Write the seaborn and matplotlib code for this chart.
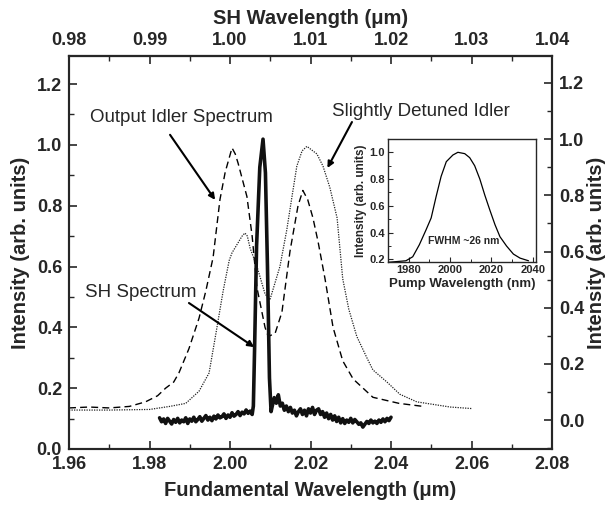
import numpy as np
import pandas as pd
import matplotlib
matplotlib.use("Agg")
import matplotlib.pyplot as plt
import seaborn as sns
from matplotlib.ticker import MultipleLocator

# ---------------- data ----------------
# Output idler spectrum (dashed), left axis
idler_x = [1.960, 1.965, 1.970, 1.975, 1.979, 1.982, 1.984, 1.986, 1.9873, 1.9898,
           1.9923, 1.994, 1.9958, 1.9975, 1.9988, 2.0005, 2.0013, 2.002, 2.0042, 2.0055,
           2.0067, 2.0087, 2.0095, 2.0112, 2.0129, 2.0141, 2.0149, 2.0169, 2.0181, 2.0193,
           2.0206, 2.0219, 2.0236, 2.0256, 2.028, 2.0306, 2.0355, 2.042, 2.048]
idler_y = [0.135, 0.138, 0.135, 0.140, 0.155, 0.175, 0.200, 0.220, 0.250, 0.330,
           0.430, 0.520, 0.630, 0.820, 0.910, 0.990, 0.970, 0.940, 0.830, 0.700,
           0.530, 0.400, 0.370, 0.380, 0.450, 0.570, 0.650, 0.800, 0.850, 0.820,
           0.760, 0.680, 0.560, 0.400, 0.290, 0.230, 0.170, 0.150, 0.140]

# Slightly detuned idler (dotted), left axis
detuned_x = [1.960, 1.970, 1.980, 1.985, 1.989, 1.9923, 1.9948, 1.9965, 1.9983, 1.9998,
             2.0005, 2.003, 2.0037, 2.0043, 2.005, 2.0067, 2.0087, 2.0099, 2.0124, 2.0141,
             2.0154, 2.0166, 2.0179, 2.0191, 2.0216, 2.0231, 2.0248, 2.0266, 2.028, 2.0295,
             2.0315, 2.034, 2.0355, 2.039, 2.0422, 2.0464, 2.0547, 2.060]
detuned_y = [0.128, 0.128, 0.130, 0.140, 0.150, 0.190, 0.250, 0.380, 0.520, 0.620,
             0.645, 0.700, 0.710, 0.700, 0.660, 0.600, 0.510, 0.490, 0.600, 0.720,
             0.830, 0.930, 0.980, 0.995, 0.970, 0.930, 0.860, 0.760, 0.560, 0.460,
             0.370, 0.300, 0.260, 0.220, 0.180, 0.155, 0.138, 0.133]

# SH spectrum (solid, thick, noisy baseline), right axis
sh_x = [1.9825, 1.9830, 1.9835, 1.9840, 1.9845, 1.9850, 1.9855, 1.9860, 1.9865, 1.9870,
        1.9875, 1.9880, 1.9885, 1.9890, 1.9895, 1.9900, 1.9905, 1.9910, 1.9915, 1.9920,
        1.9925, 1.9930, 1.9935, 1.9940, 1.9945, 1.9950, 1.9955, 1.9960, 1.9965, 1.9970,
        1.9975, 1.9980, 1.9985, 1.9990, 1.9995, 2.0000, 2.0005, 2.0010, 2.0015, 2.0020,
        2.0025, 2.0030, 2.0035, 2.0040, 2.0045, 2.0050, 2.0055,
        2.0058, 2.0061, 2.0066, 2.0074, 2.0082, 2.0088, 2.0093, 2.0098, 2.0102,
        2.0105, 2.0110, 2.0115, 2.0120, 2.0125, 2.0130, 2.0135, 2.0140, 2.0145, 2.0150,
        2.0155, 2.0160, 2.0165, 2.0170, 2.0175, 2.0180, 2.0185, 2.0190, 2.0195, 2.0200,
        2.0205, 2.0210, 2.0215, 2.0220, 2.0225, 2.0230, 2.0235, 2.0240, 2.0245, 2.0250,
        2.0255, 2.0260, 2.0265, 2.0270, 2.0275, 2.0280, 2.0285, 2.0290, 2.0295, 2.0300,
        2.0305, 2.0310, 2.0315, 2.0320, 2.0325, 2.0330, 2.0335, 2.0340, 2.0345, 2.0350,
        2.0355, 2.0360, 2.0365, 2.0370, 2.0375, 2.0380, 2.0385, 2.0390, 2.0395, 2.0400]
sh_y = [0.008, -0.006, 0.004, -0.012, 0.006, -0.004, -0.014, 0.002, -0.008, 0.006,
        -0.010, 0.000, -0.006, 0.008, -0.012, 0.004, -0.004, 0.010, -0.006, 0.002,
        0.012, -0.004, 0.006, 0.016, 0.000, 0.010, -0.002, 0.014, 0.004, 0.018,
        0.008, 0.012, 0.022, 0.006, 0.018, 0.010, 0.026, 0.014, 0.020, 0.030,
        0.016, 0.028, 0.022, 0.036, 0.024, 0.032, 0.020,
        0.050, 0.250, 0.620, 0.900, 1.000, 0.880, 0.550, 0.150, 0.030,
        0.050, 0.080, 0.060, 0.090, 0.050, 0.060, 0.035, 0.050, 0.030, 0.045,
        0.025, 0.035, 0.015, 0.030, 0.040, 0.020, 0.035, 0.015, 0.040, 0.025,
        0.045, 0.020, 0.035, 0.040, 0.020, 0.030, 0.010, 0.025, 0.005, 0.020,
        0.000, 0.015, -0.005, 0.010, -0.010, 0.005, -0.012, 0.000, -0.008, 0.006,
        -0.010, 0.002, -0.006, -0.015, -0.010, -0.025, -0.015, -0.005, -0.012, 0.000,
        -0.010, -0.004, -0.012, 0.000, -0.008, 0.004, -0.006, 0.006, -0.002, 0.010]

# Inset: pump spectrum
pump_x = [1969.8, 1978.7, 1982.0, 1985.2, 1988.4, 1990.9, 1993.3, 1995.7, 1998.2, 2001.4,
          2003.8, 2007.1, 2009.5, 2011.9, 2014.4, 2016.8, 2019.2, 2021.7, 2024.1, 2027.3,
          2030.6, 2033.8, 2037.9]
pump_y = [0.178, 0.190, 0.220, 0.310, 0.420, 0.510, 0.670, 0.820, 0.930, 0.980,
          1.000, 0.990, 0.960, 0.900, 0.800, 0.680, 0.570, 0.460, 0.370, 0.300,
          0.240, 0.210, 0.190]

bottom_ticks = [1.96, 1.98, 2.00, 2.02, 2.04, 2.06, 2.08]
top_ticks = [0.98, 0.99, 1.00, 1.01, 1.02, 1.03, 1.04]
y_ticks = [0.0, 0.2, 0.4, 0.6, 0.8, 1.0, 1.2]
inset_xticks = [1980, 2000, 2020, 2040]
inset_yticks = [0.2, 0.4, 0.6, 0.8, 1.0]

# ---------------- style ----------------
sns.set_style("ticks")
plt.rcParams['font.family'] = ['Liberation Sans', 'DejaVu Sans']
plt.rcParams['axes.linewidth'] = 1.5

fig = plt.figure(figsize=(6.07, 5.07), dpi=100)
ax = fig.add_axes([0.1137, 0.1144, 0.7957, 0.7751])
ax.set_facecolor('white')

sns.lineplot(x=idler_x, y=idler_y, ax=ax, color='black', lw=1.0,
             linestyle=(0, (5, 3)), sort=False, estimator=None)
sns.lineplot(x=detuned_x, y=detuned_y, ax=ax, color='#222222', lw=0.9,
             linestyle=(0, (1, 1)), sort=False, estimator=None)

ax.set_xlim(1.96, 2.08)
ax.set_ylim(0, 1.292)
ax.set_xticks(bottom_ticks)
ax.set_xticklabels([f"{t:.2f}" for t in bottom_ticks])
ax.set_yticks(y_ticks)
ax.set_yticklabels([f"{t:.1f}" for t in y_ticks])
ax.xaxis.set_minor_locator(MultipleLocator(0.01))
ax.yaxis.set_minor_locator(MultipleLocator(0.1))

# right axis for SH
ax2 = ax.twinx()
sns.lineplot(x=sh_x, y=sh_y, ax=ax2, color='#111111', lw=2.6,
             sort=False, estimator=None)
ax2.set_ylim(-0.103, 1.296)
ax2.set_yticks(y_ticks)
ax2.set_yticklabels([f"{t:.1f}" for t in y_ticks])
ax2.yaxis.set_minor_locator(MultipleLocator(0.1))

# top axis (SH wavelength = fundamental / 2)
ax3 = ax.secondary_xaxis('top', functions=(lambda x: x / 2.0, lambda x: x * 2.0))
ax3.set_xticks(top_ticks)
ax3.set_xticklabels([f"{t:.2f}" for t in top_ticks])
ax3.xaxis.set_minor_locator(MultipleLocator(0.005))

for a in (ax, ax2):
    for lab in a.get_xticklabels() + a.get_yticklabels():
        lab.set_fontsize(13)
        lab.set_fontweight('bold')
for lab in ax3.get_xticklabels():
    lab.set_fontsize(13)
    lab.set_fontweight('bold')

ax.tick_params(axis='both', which='major', direction='in', length=6, width=1.2, pad=5)
ax.tick_params(axis='both', which='minor', direction='in', length=3.5, width=1.0)
ax.tick_params(axis='x', which='both', top=False)
ax2.tick_params(axis='y', which='major', direction='in', length=6, width=1.2, pad=5)
ax2.tick_params(axis='y', which='minor', direction='in', length=3.5, width=1.0)
ax3.tick_params(axis='x', which='major', direction='in', length=6, width=1.2, pad=5)
ax3.tick_params(axis='x', which='minor', direction='in', length=3.5, width=1.0)

for a in (ax, ax2):
    for s in a.spines.values():
        s.set_linewidth(1.5)
        s.set_visible(True)

labfont = dict(fontsize=14.5, fontweight='bold')
ax.set_xlabel("Fundamental Wavelength (μm)", labelpad=6, **labfont)
ax.set_ylabel("Intensity (arb. units)", labelpad=5, **labfont)
ax2.set_ylabel("Intensity (arb. units)", labelpad=2, rotation=90, **labfont)
ax3.set_xlabel("SH Wavelength (μm)", labelpad=6, **labfont)

# annotations
afont = dict(fontsize=13.5)
arrow = dict(arrowstyle='-|>', color='black', lw=1.5, mutation_scale=9, shrinkA=0, shrinkB=0)
ax.text(1.988, 1.089, "Output Idler Spectrum", ha='center', va='center', **afont)
ax.annotate("", xy=(1.9963, 0.819), xytext=(1.9851, 1.033), arrowprops=arrow)
ax.text(2.0475, 1.109, "Slightly Detuned Idler", ha='center', va='center', **afont)
ax.annotate("", xy=(2.0242, 0.924), xytext=(2.0303, 1.075), arrowprops=arrow)
ax.text(1.9779, 0.513, "SH Spectrum", ha='center', va='center', **afont)
ax.annotate("", xy=(2.006, 0.335), xytext=(1.9898, 0.48), arrowprops=arrow)

# inset
axi = fig.add_axes([0.639, 0.483, 0.244, 0.243])
axi.set_facecolor('white')
sns.lineplot(x=pump_x, y=pump_y, ax=axi, color='black', lw=0.9,
             sort=False, estimator=None)
axi.set_xlim(1970, 2041.5)
axi.set_ylim(0.18, 1.10)
axi.set_xticks(inset_xticks)
axi.set_yticks(inset_yticks)
axi.set_yticklabels([f"{t:.1f}" for t in inset_yticks])
axi.xaxis.set_minor_locator(MultipleLocator(10))
axi.yaxis.set_minor_locator(MultipleLocator(0.1))
axi.tick_params(axis='both', which='major', direction='in', length=3.5, width=0.8,
                labelsize=8, pad=2)
axi.tick_params(axis='both', which='minor', direction='in', length=2, width=0.7)
for lab in axi.get_xticklabels() + axi.get_yticklabels():
    lab.set_fontweight('bold')
for s in axi.spines.values():
    s.set_linewidth(1.0)
axi.set_xlabel("Pump Wavelength (nm)", fontsize=9.5, fontweight='bold', labelpad=2)
axi.set_ylabel("Intensity (arb. units)", fontsize=8.5, fontweight='bold', labelpad=2)
axi.text(2006.6, 0.34, "FWHM ~26 nm", ha='center', va='center',
         fontsize=7.5, fontweight='bold')

fig.savefig("out.png", dpi=100, facecolor='white')
